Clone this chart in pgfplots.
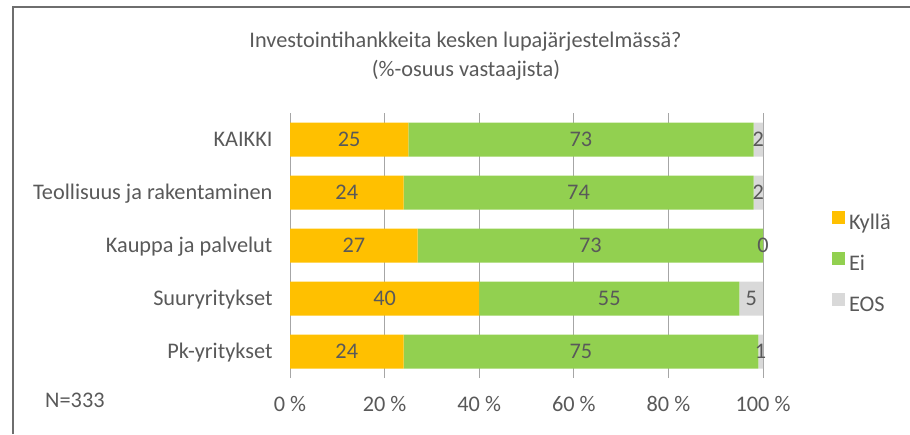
\documentclass[border=0pt]{standalone}
\usepackage{pgfplots}
\pgfplotsset{compat=1.18}
\usepackage{pgfplotstable}
\usepackage{fontspec}
\setmainfont{Carlito}
\definecolor{kyl}{HTML}{FFC000}
\definecolor{ei}{HTML}{92D050}
\definecolor{eos}{HTML}{D9D9D9}
\definecolor{txt}{HTML}{595959}
\definecolor{gridc}{HTML}{A6A6A6}
\definecolor{framec}{HTML}{6E6E6E}
\newcommand\fs{\fontsize{22.3}{26}\selectfont}
\pgfplotstableread{
y kyl ei eos pos
4 25 73 2 99
3 24 74 2 99
2 27 73 0 100
1 40 55 5 97.5
0 24 75 1 99.5
}\datatable
\begin{document}
\begin{tikzpicture}[x=1pt,y=1pt]
\useasboundingbox (0,0) rectangle (910,-434);
\draw[framec, line width=2pt] (13,-434) -- (13,-6.5) -- (910,-6.5);
\node[font=\fs, text=txt, anchor=base] at (465.5,-47) {Investointihankkeita kesken lupajärjestelmässä?};
\node[font=\fs, text=txt, anchor=base] at (466,-76.5) {(\%-osuus vastaajista)};
\node[font=\fs, text=txt, anchor=base west, inner sep=0pt] at (45,-407) {N=333};
\begin{axis}[
  at={(290pt,-378pt)}, anchor=south west,
  scale only axis, width=473pt, height=265pt,
  xbar stacked, bar width=34pt, clip=false,
  xmin=0, xmax=100, ymin=-0.5, ymax=4.5,
  ytick={0,...,4},
  yticklabels={Pk-yritykset,Suuryritykset,Kauppa ja palvelut,Teollisuus ja rakentaminen,KAIKKI},
  xtick={0,20,...,100},
  xticklabels={0 \%,20 \%,40 \%,60 \%,80 \%,100 \%},
  axis line style={draw=none},
  major tick length=0pt,
  xmajorgrids, grid style={draw=gridc, line width=1pt},
  tick label style={font=\fs, text=txt},
  xticklabel style={anchor=base, yshift=-33pt},
  yticklabel style={anchor=base east, xshift=-14pt, yshift=-7.2pt},
  visualization depends on={rawx \as \segw},
  nodes near coords={\pgfmathprintnumber[fixed,precision=0,assume math mode=true]{\segw}},
  every node near coord/.append style={font=\fs, text=txt, anchor=center},
  legend style={at={(1.1459,0.630)}, anchor=north west, draw=none, fill=none, inner sep=0pt, outer sep=0pt, row sep=15.5pt, font=\fs, text=txt, nodes={inner xsep=4pt, inner ysep=2pt, text height=15pt, text depth=5pt}},
  legend cell align=left,
  legend image code/.code={\fill[#1] (0pt,0.4pt) rectangle (13pt,13.4pt);},
]
\addplot[fill=kyl, draw=none] table[x=kyl, y=y] {\datatable};
\addplot[fill=ei, draw=none] table[x=ei, y=y] {\datatable};
\addplot[fill=eos, draw=none, nodes near coords={}] table[x=eos, y=y] {\datatable};
\legend{Kyllä,Ei,EOS}
\end{axis}
\begin{axis}[
  at={(290pt,-378pt)}, anchor=south west,
  scale only axis, width=473pt, height=265pt,
  xmin=0, xmax=100, ymin=-0.5, ymax=4.5,
  hide axis, clip=false,
]
\addplot[only marks, mark=*, mark size=0pt, mark options={draw=none, fill=none},
  point meta=explicit,
  nodes near coords={\pgfmathprintnumber[fixed,precision=0,assume math mode=true]{\pgfplotspointmeta}},
  every node near coord/.append style={font=\fs, text=txt, anchor=center}]
  table[x=pos, y=y, meta=eos] {\datatable};
\end{axis}
\end{tikzpicture}
\end{document}
